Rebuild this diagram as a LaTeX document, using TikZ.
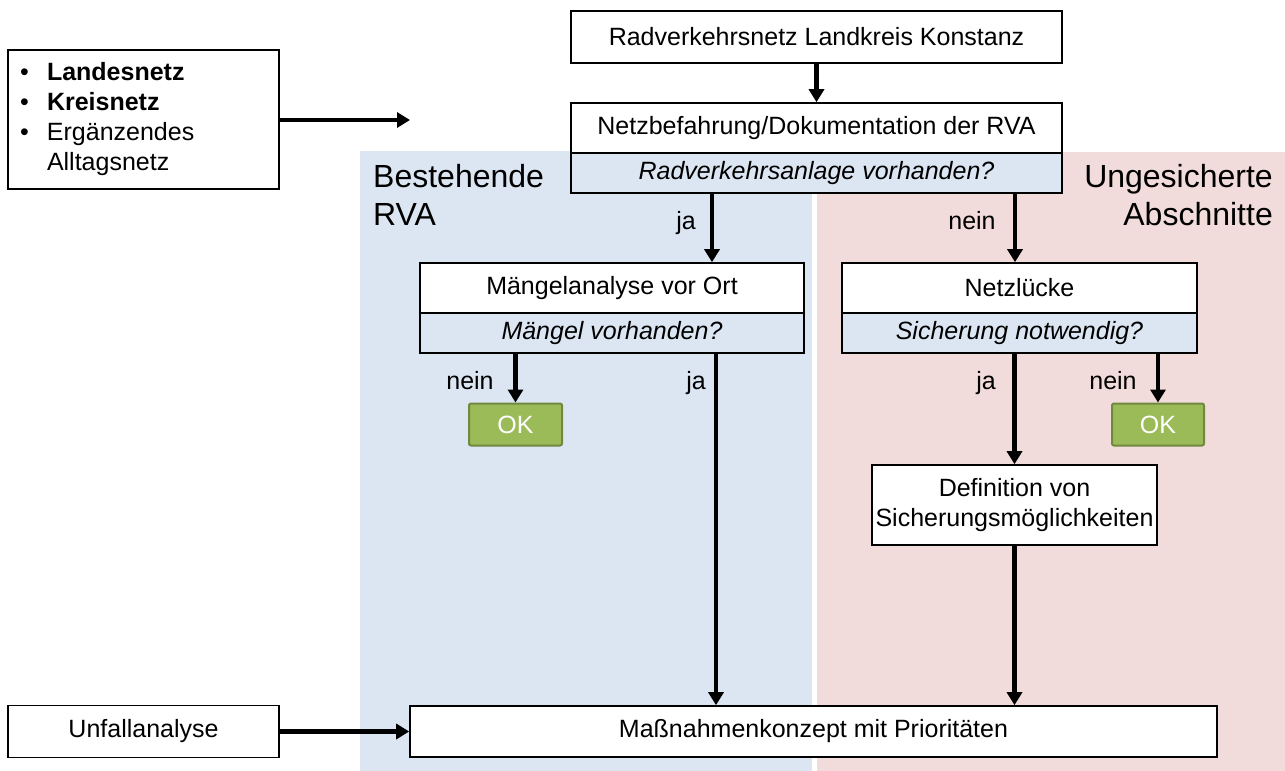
\documentclass[tikz,border=0pt]{standalone}
\usepackage{fontspec}
\setmainfont{Liberation Sans}
\usetikzlibrary{arrows.meta,calc}
\definecolor{bgblue}{HTML}{DCE6F2}
\definecolor{bgpink}{HTML}{F2DCDB}
\definecolor{okgreen}{HTML}{9BBB59}
\definecolor{okborder}{HTML}{71893F}
\begin{document}
\begin{tikzpicture}[x=1pt,y=-1pt,
  font=\fontsize{25}{30}\selectfont,
  box/.style={draw, line width=1.6pt, fill=white, inner sep=0pt},
  qbox/.style={box, fill=bgblue, font=\fontsize{25}{30}\selectfont\itshape},
  okbox/.style={draw=okborder, fill=okgreen, line width=2pt, rounded corners=2pt, text=white, inner sep=0pt},
  arr/.style={line width=4.5pt, -{Triangle[width=15pt,length=13pt]}},
  lbl/.style={inner sep=0pt, anchor=base},
  title/.style={inner sep=0pt, font=\fontsize{32}{38}\selectfont}]
\useasboundingbox (0,0) rectangle (1285,771);
\fill[white] (0,0) rectangle (1285,771);
% background regions
\fill[bgblue] (360,151) rectangle (812,771);
\fill[bgpink] (817,152) rectangle (1285,771);
\node[title, anchor=north west, align=left] (tBest) at (373,164) {Bestehende\\RVA};
\node[title, anchor=north east, align=right] (tUng) at (1273,164) {Ungesicherte\\Abschnitte};
% boxes
\node[box, minimum width=491pt, minimum height=52pt] (top) at (816.5,37) {Radverkehrsnetz Landkreis Konstanz};
\node[box, minimum width=491pt, minimum height=50pt] (netA) at (816.5,128) {Netzbefahrung/Dokumentation der RVA};
\node[qbox, minimum width=491pt, minimum height=40pt] (netQ) at (816.5,173) {Radverkehrsanlage vorhanden?};
\node[box, minimum width=384pt, minimum height=50pt] (mangA) at (612,288) {Mängelanalyse vor Ort};
\node[qbox, minimum width=384pt, minimum height=40pt] (mangQ) at (612,333) {Mängel vorhanden?};
\node[box, minimum width=355pt, minimum height=50pt] (nlA) at (1019.5,288) {Netzlücke};
\node[qbox, minimum width=355pt, minimum height=40pt] (nlQ) at (1019.5,333) {Sicherung notwendig?};
\node[okbox, minimum width=93pt, minimum height=42pt] (ok1) at (515.5,424.5) {OK};
\node[okbox, minimum width=92pt, minimum height=42pt] (ok2) at (1158,424.5) {OK};
\node[box, minimum width=285pt, minimum height=80pt, align=center] (defn) at (1014.5,505) {Definition von\\Sicherungsmöglichkeiten};
\node[box, minimum width=807pt, minimum height=51pt] (mass) at (813.5,731.5) {Maßnahmenkonzept mit Prioritäten};
\node[box, minimum width=271pt, minimum height=52pt] (unf) at (143.5,731.5) {Unfallanalyse};
\node[box, minimum width=271pt, minimum height=139pt, text width=247pt, inner xsep=12pt, align=left,
  font=\fontsize{25}{30}\selectfont] (lst) at (143.5,119.5)
  {\makebox[27pt][l]{•}\textbf{Landesnetz}\\
   \makebox[27pt][l]{•}\textbf{Kreisnetz}\\
   \makebox[27pt][l]{•}Ergänzendes\\
   \makebox[27pt][l]{}Alltagsnetz};
% helper coordinates
\coordinate (xja) at (712,0);
\coordinate (xnein) at (1015,0);
\coordinate (xja2) at (716,0);
\coordinate (lstEnd) at (410,120);
% connectors
\draw[arr] (top.south) -- (netA.north);
\draw[arr] (netQ.south -| xja) -- (mangA.north -| xja);
\draw[arr] (netQ.south -| xnein) -- (nlA.north -| xnein);
\draw[arr] (mangQ.south -| ok1) -- (ok1.north);
\draw[arr] (mangQ.south -| xja2) -- (mass.north -| xja2);
\draw[arr] (nlQ.south -| defn) -- (defn.north);
\draw[arr] (nlQ.south -| ok2) -- (ok2.north);
\draw[arr] (defn.south) -- (mass.north -| defn);
\draw[arr] (unf.east) -- (mass.west);
\draw[arr] (lst.east |- lstEnd) -- (lstEnd);
% labels
\node[lbl] (lja1) at (686,229) {ja};
\node[lbl] (lnein1) at (972,229) {nein};
\node[lbl] (lnein2) at (470,389) {nein};
\node[lbl] (lja2) at (696,389) {ja};
\node[lbl] (lja3) at (986,389) {ja};
\node[lbl] (lnein3) at (1113,389) {nein};
\end{tikzpicture}
\end{document}
